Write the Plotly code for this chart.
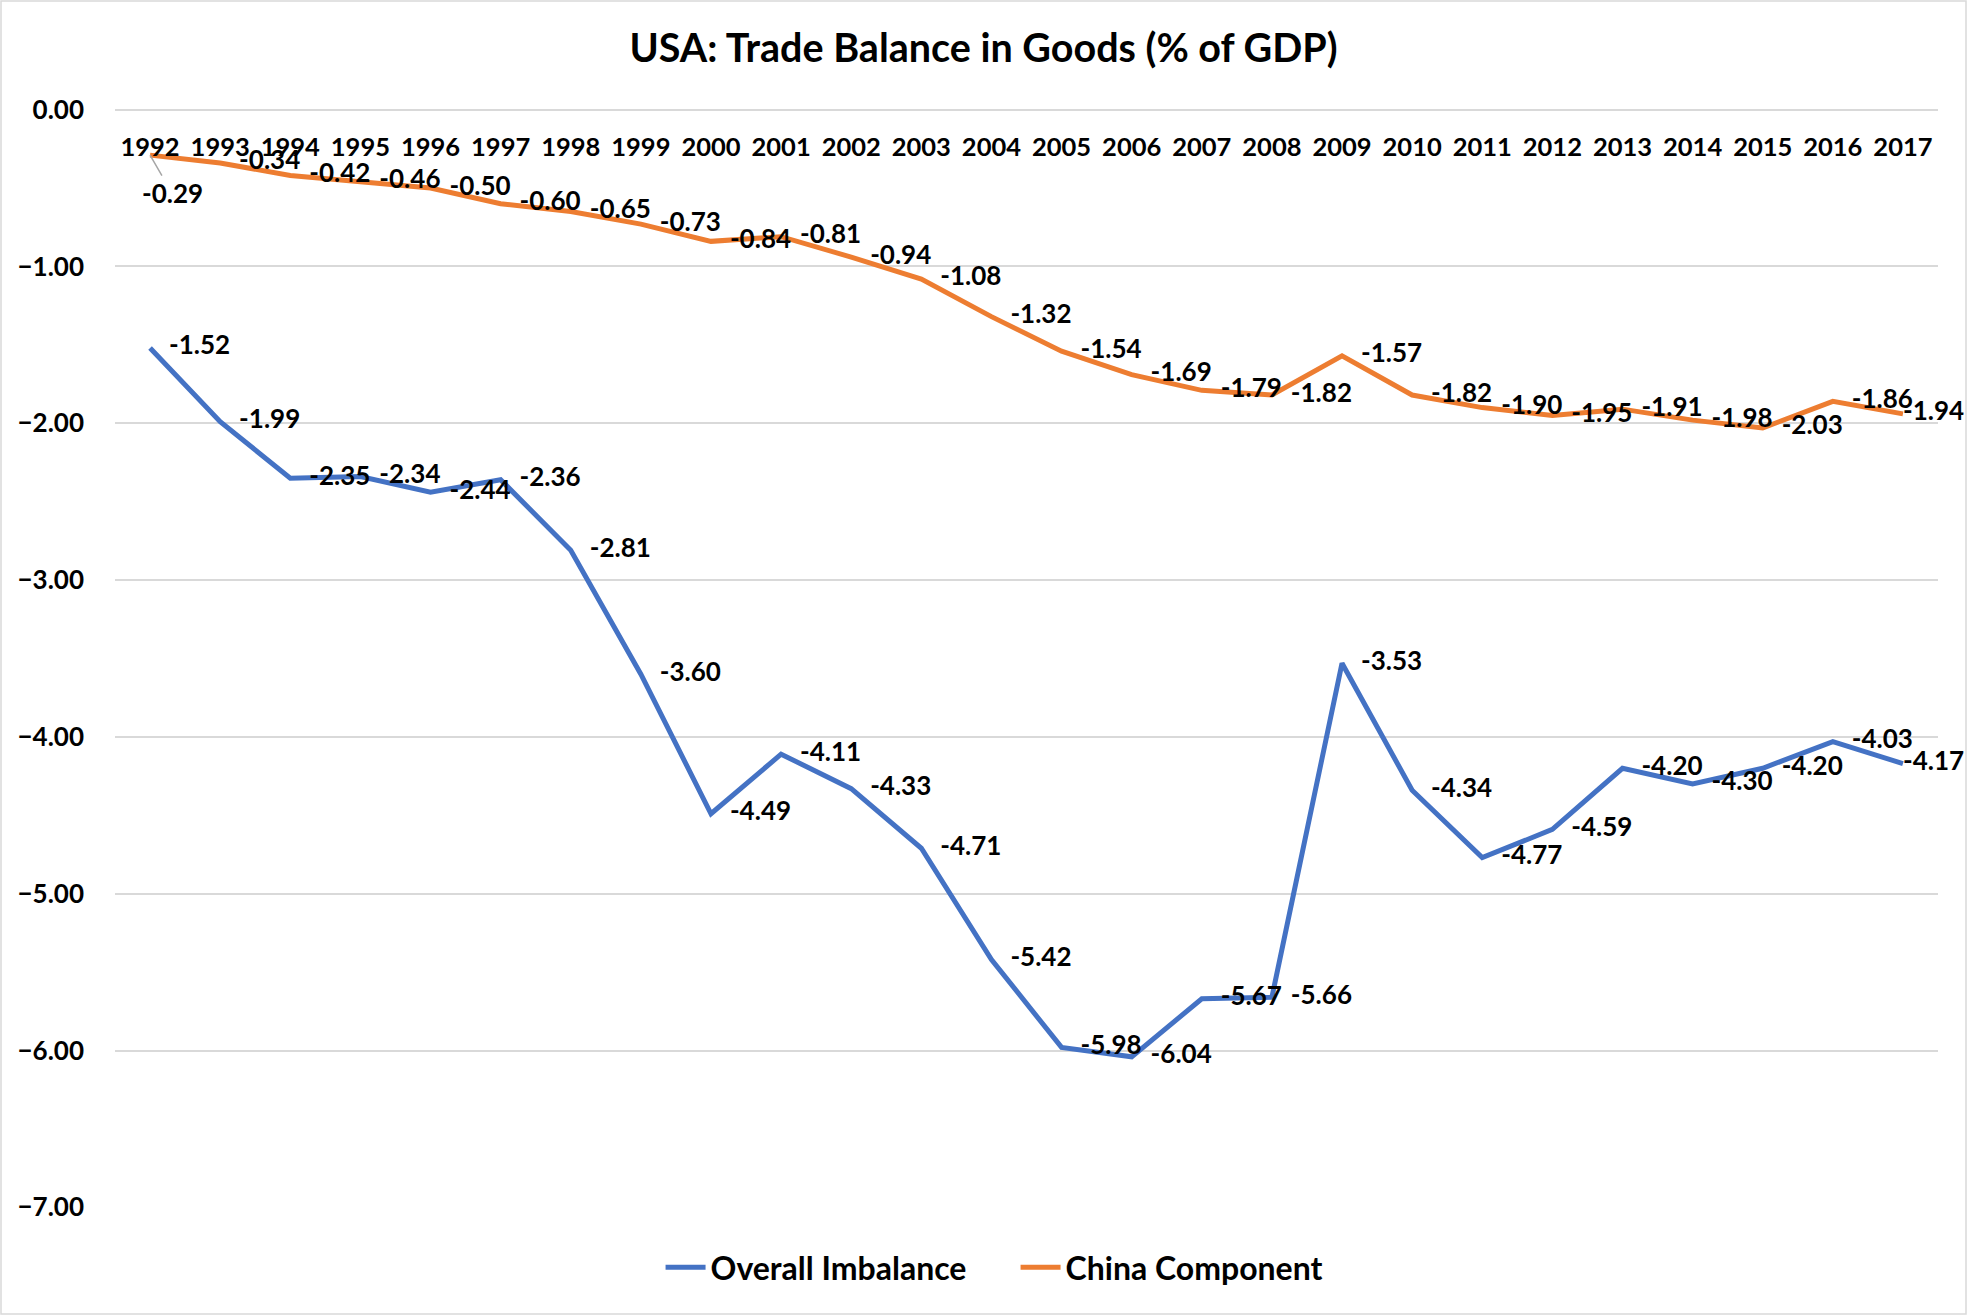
import plotly.graph_objects as go

years = [str(y) for y in range(1992, 2018)]
overall = [-1.52, -1.99, -2.35, -2.34, -2.44, -2.36, -2.81, -3.60, -4.49, -4.11,
           -4.33, -4.71, -5.42, -5.98, -6.04, -5.67, -5.66, -3.53, -4.34, -4.77,
           -4.59, -4.20, -4.30, -4.20, -4.03, -4.17]
china = [-0.29, -0.34, -0.42, -0.46, -0.50, -0.60, -0.65, -0.73, -0.84, -0.81,
         -0.94, -1.08, -1.32, -1.54, -1.69, -1.79, -1.82, -1.57, -1.82, -1.90,
         -1.95, -1.91, -1.98, -2.03, -1.86, -1.94]

FONT = "Lato"
BLUE = "#4472C4"
ORANGE = "#ED7D31"
GRID = "#D9D9D9"
PAD = "\u00a0\u00a0\u00a0"

W, H = 1967, 1315
L, R, T, B = 115, 29, 109, 107
pw, ph = W - L - R, H - T - B

label_font = dict(family=FONT, size=26, color="black", weight="bold")


def labels(vals):
    out = [f"{PAD}{v:.2f}" for v in vals]
    out[-1] = f"{vals[-1]:.2f}"  # last label kept inside the chart, as in the original
    return out


fig = go.Figure()
fig.add_trace(go.Scatter(
    x=years, y=overall, mode="lines+text", name="Overall Imbalance",
    line=dict(color=BLUE, width=5),
    text=labels(overall), textposition="middle right",
    textfont=label_font, cliponaxis=False,
))
china_text = labels(china)
china_text[0] = ""
fig.add_trace(go.Scatter(
    x=years, y=china, mode="lines+text", name="China Component",
    line=dict(color=ORANGE, width=5),
    text=china_text, textposition="middle right",
    textfont=label_font, cliponaxis=False,
))
# first China label was moved down in the original, with a leader line
fig.add_annotation(x=years.index(years[0]), y=china[0], text=f"{china[0]:.2f}",
                   showarrow=True, arrowhead=0, arrowcolor="#A6A6A6", arrowwidth=1.5,
                   ax=22, ay=38, xanchor="center", yanchor="middle",
                   font=label_font, standoff=0)

fig.update_layout(
    width=W, height=H,
    margin=dict(l=L, r=R, t=T, b=B),
    paper_bgcolor="white", plot_bgcolor="white",
    font=dict(family=FONT, color="black"),
    title=dict(text="<b>USA: Trade Balance in Goods (% of GDP)</b>",
               x=0.5, xref="container", xanchor="center",
               y=1 - 48 / H, yref="container", yanchor="middle",
               font=dict(family=FONT, size=39.5, color="black")),
    showlegend=True,
    legend=dict(orientation="h", x=0.494, xanchor="center",
                y=-0.054, yanchor="middle",
                font=dict(family=FONT, size=32, color="black", weight="bold"),
                itemwidth=40, entrywidth=300, entrywidthmode="pixels"),
    xaxis=dict(type="category", anchor="free", position=1, side="bottom",
               showgrid=False, zeroline=False, showline=False, automargin=False,
               ticks="", ticklabelstandoff=20,
               tickfont=dict(family=FONT, size=25.5, color="black", weight="bold"),
               range=[-0.5, 25.5]),
    yaxis=dict(range=[-7.004, 0.004], dtick=1, tick0=0, tickformat=".2f",
               showgrid=True, gridcolor=GRID, gridwidth=2, automargin=False,
               zeroline=True, zerolinecolor=GRID, zerolinewidth=2, showline=False,
               ticks="", ticklabelstandoff=30,
               tickfont=dict(family=FONT, size=26, color="black", weight="bold")),
    shapes=[dict(type="rect", xref="paper", yref="paper",
                 x0=(1 - L) / pw, x1=(W - 1 - L) / pw,
                 y0=(H - B - (H - 1)) / ph, y1=(H - B - 1) / ph,
                 line=dict(color=GRID, width=1.5), layer="below")],
)

fig.write_html("out.html", config={"displayModeBar": False},
               post_script="document.body.style.margin='0';document.body.style.overflow='hidden';")
